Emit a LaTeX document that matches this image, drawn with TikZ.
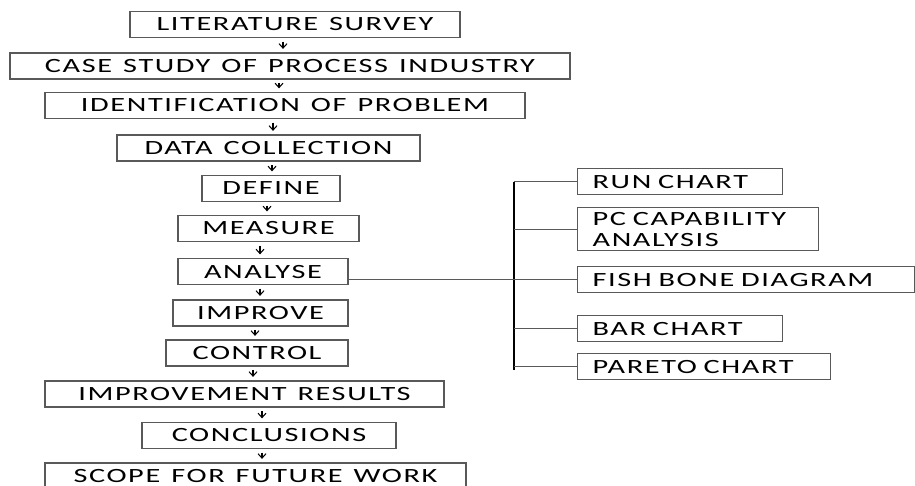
\documentclass[tikz,border=0pt]{standalone}
\usepackage{fontspec}
\setmainfont{Carlito}[FakeStretch=1.5,LetterSpace=8,WordSpace=1.3]
\usetikzlibrary{arrows.meta}
\definecolor{edge}{gray}{.35}
\tikzset{
  box/.style={draw=edge, line width=0.7pt, minimum height=0.52cm, inner sep=0pt, font=\fontsize{11.5}{12}\selectfont},
  sidebox/.style={box, anchor=north west, align=left, inner xsep=0.3cm, inner ysep=2.5pt},
  arr/.style={-{Straight Barb[length=2.5pt,width=4.5pt]}, line width=0.6pt, shorten <=2pt, shorten >=2pt},
  branch/.style={draw=edge, line width=0.7pt}
}

\begin{document}
\begin{tikzpicture}[x=0.02cm,y=-0.02cm]
\clip (0,0) rectangle (915,485);
\foreach \nm/\cx/\cy/\w/\txt in {lit/295/24.5/330/LITERATURE SURVEY, case/290/66/560/CASE STUDY OF PROCESS INDUSTRY,
  ident/285/105.5/480/IDENTIFICATION OF PROBLEM, data/268.5/148/303/DATA COLLECTION, define/271/188.5/138/DEFINE,
  measure/268.5/228.5/181/MEASURE, analyse/263/271.5/170/ANALYSE, improve/260.5/313/175/IMPROVE,
  control/257/353/182/CONTROL, results/244.5/394/399/IMPROVEMENT RESULTS, concl/269/435.5/254/CONCLUSIONS,
  scope/255.5/476/421/SCOPE FOR FUTURE WORK}
  \node[box, minimum width=\w*0.02cm] (\nm) at (\cx,\cy) {\txt};
\foreach \a/\b/\x in {lit/case/283, case/ident/279, ident/data/273, data/define/272, define/measure/267,
  measure/analyse/260, analyse/improve/260, improve/control/255, control/results/253, results/concl/262, concl/scope/262}
  \draw[arr] (\x,0 |- \a.south) -- (\x,0 |- \b.north);
\foreach \nm/\y/\w/\txt in {run/168/205/RUN CHART, pc/207/241/{PC CAPABILITY\\ANALYSIS}, fish/266/337/FISH BONE DIAGRAM,
  bar/315/205/BAR CHART, pareto/353/253/PARETO CHART}
  \node[sidebox, text width=\w*0.02cm-0.6cm] (\nm) at (577,\y) {\txt};
\coordinate (top) at (514,182);
\coordinate (bot) at (514,370);
\draw[line width=1.1pt] (top) -- (bot);
\foreach \nm in {run,pc,bar,pareto} \draw[branch] (\nm.west -| top) -- (\nm.west);
\draw[branch] (analyse.east |- fish.west) -- (fish.west);
\end{tikzpicture}
\end{document}
